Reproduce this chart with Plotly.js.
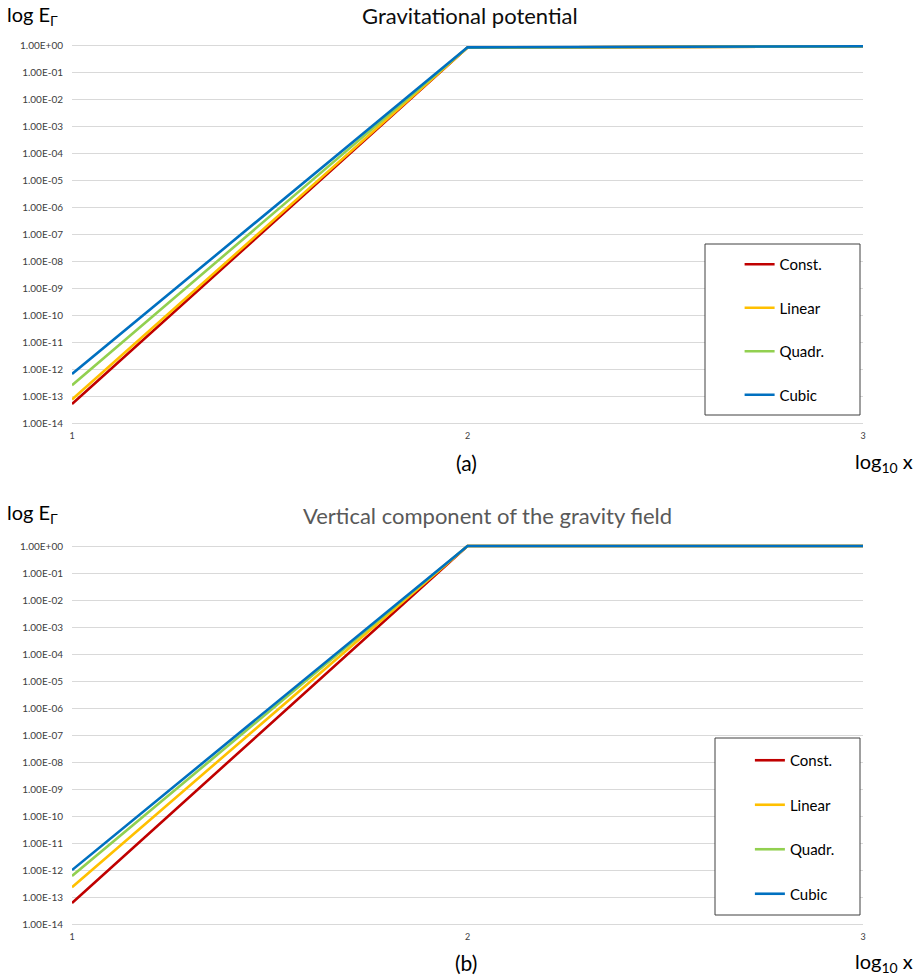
<!DOCTYPE html>
<html>
<head>
<meta charset="utf-8">
<script src="https://cdn.plot.ly/plotly-3.0.1.min.js"></script>
<style>html,body{margin:0;padding:0;background:#fff;}#chart{width:922px;height:979px;}</style>
</head>
<body>
<div id="chart"></div>
<script>
// ---- data ----
const xVals = [1, 2, 3];
const seriesNames = ["Const.", "Linear", "Quadr.", "Cubic"];
const seriesColors = ["#c00000", "#ffc000", "#92d050", "#0070c0"];

// (a) Gravitational potential
const potConst  = [5.5e-14, 0.80, 0.90];
const potLinear = [8.0e-14, 0.80, 0.90];
const potQuadr  = [2.7e-13, 0.80, 0.90];
const potCubic  = [7.0e-13, 0.82, 0.90];

// (b) Vertical component of the gravity field
const gravConst  = [6.5e-14, 1.0, 1.0];
const gravLinear = [2.5e-13, 1.0, 1.0];
const gravQuadr  = [6.5e-13, 1.0, 1.0];
const gravCubic  = [1.07e-12, 1.0, 1.0];

const yTickVals = [1e0,1e-1,1e-2,1e-3,1e-4,1e-5,1e-6,1e-7,1e-8,1e-9,1e-10,1e-11,1e-12,1e-13,1e-14];
const yTickText = ["1.00E+00","1.00E-01","1.00E-02","1.00E-03","1.00E-04","1.00E-05","1.00E-06","1.00E-07","1.00E-08","1.00E-09","1.00E-10","1.00E-11","1.00E-12","1.00E-13","1.00E-14"];
const xTickVals = [1, 2, 3];
const xTickText = ["1", "2", "3"];

const FONT = "Lato, 'Open Sans', sans-serif";
const potSeries = [potConst, potLinear, potQuadr, potCubic];
const gravSeries = [gravConst, gravLinear, gravQuadr, gravCubic];

const traces = [];
potSeries.forEach((ys, i) => traces.push({
  x: xVals, y: ys, type: "scatter", mode: "lines", name: seriesNames[i],
  line: {color: seriesColors[i], width: 2.6}, xaxis: "x", yaxis: "y",
  legend: "legend", legendgroup: "a" + i
}));
gravSeries.forEach((ys, i) => traces.push({
  x: xVals, y: ys, type: "scatter", mode: "lines", name: seriesNames[i],
  line: {color: seriesColors[i], width: 2.6}, xaxis: "x2", yaxis: "y2",
  legend: "legend2", legendgroup: "b" + i
}));

const yAxisBase = {
  type: "log", range: [-14.05, 0.1], tickvals: yTickVals, ticktext: yTickText,
  showgrid: true, gridcolor: "#d9d9d9", gridwidth: 1, showline: false, zeroline: false,
  ticks: "", ticklabelstandoff: 8, tickfont: {family: FONT, size: 10, color: "#404040"},
  fixedrange: true
};
const xAxisBase = {
  type: "linear", range: [1, 3], tickvals: xTickVals, ticktext: xTickText,
  showgrid: false, zeroline: false, showline: false, ticks: "",
  ticklabelstandoff: 4, tickfont: {family: FONT, size: 9, color: "#404040"}, fixedrange: true
};

const legendBase = {
  bgcolor: "rgba(0,0,0,0)", borderwidth: 0, traceorder: "grouped",
  tracegroupgap: 21, itemwidth: 30, font: {family: FONT, size: 15, color: "#000"},
  xanchor: "left", yanchor: "top", xref: "paper", yref: "paper"
};

const layout = {
  width: 922, height: 979,
  margin: {l: 72, r: 59, t: 0, b: 0},
  paper_bgcolor: "#fff", plot_bgcolor: "#fff",
  showlegend: true,
  xaxis: Object.assign({}, xAxisBase, {domain: [0, 1], anchor: "y"}),
  yaxis: Object.assign({}, yAxisBase, {domain: [0.56553, 0.95679], anchor: "x"}),
  xaxis2: Object.assign({}, xAxisBase, {domain: [0, 1], anchor: "y2"}),
  yaxis2: Object.assign({}, yAxisBase, {domain: [0.05378, 0.44505], anchor: "x2"}),
  legend: Object.assign({}, legendBase, {x: 0.844, y: 1 - 248 / 979}),
  legend2: Object.assign({}, legendBase, {x: 0.857, y: 1 - 744 / 979, tracegroupgap: 22}),
  shapes: [
    {type: "rect", xref: "paper", yref: "paper", layer: "above",
     x0: (705 - 72) / 791, x1: (860 - 72) / 791, y0: 1 - 415 / 979, y1: 1 - 244 / 979,
     line: {color: "#404040", width: 1}, fillcolor: "#ffffff"},
    {type: "rect", xref: "paper", yref: "paper", layer: "above",
     x0: (715 - 72) / 791, x1: (860 - 72) / 791, y0: 1 - 915 / 979, y1: 1 - 738 / 979,
     line: {color: "#404040", width: 1}, fillcolor: "#ffffff"}
  ],
  annotations: [
    {text: "Gravitational potential", xref: "paper", yref: "paper", x: (470 - 72) / 791, y: 1 - 16 / 979,
     xanchor: "center", yanchor: "middle", showarrow: false, font: {family: FONT, size: 22, color: "#0d0d0d"}},
    {text: "Vertical component of the gravity field", xref: "paper", yref: "paper", x: (487 - 72) / 791, y: 1 - 515 / 979,
     xanchor: "center", yanchor: "middle", showarrow: false, font: {family: FONT, size: 22, color: "#595959"}},
    {text: "log E<sub>Γ</sub>", xref: "paper", yref: "paper", x: (5 - 72) / 791, y: 1 - 16 / 979,
     xanchor: "left", yanchor: "middle", showarrow: false, font: {family: FONT, size: 20, color: "#000"}},
    {text: "log E<sub>Γ</sub>", xref: "paper", yref: "paper", x: (5 - 72) / 791, y: 1 - 513 / 979,
     xanchor: "left", yanchor: "middle", showarrow: false, font: {family: FONT, size: 20, color: "#000"}},
    {text: "(a)", xref: "paper", yref: "paper", x: (466 - 72) / 791, y: 1 - 462 / 979,
     xanchor: "center", yanchor: "middle", showarrow: false, font: {family: FONT, size: 21, color: "#000"}},
    {text: "(b)", xref: "paper", yref: "paper", x: (466 - 72) / 791, y: 1 - 962 / 979,
     xanchor: "center", yanchor: "middle", showarrow: false, font: {family: FONT, size: 21, color: "#000"}},
    {text: "log<sub>10</sub> x", xref: "paper", yref: "paper", x: (884 - 72) / 791, y: 1 - 462 / 979,
     xanchor: "center", yanchor: "middle", showarrow: false, font: {family: FONT, size: 20, color: "#000"}},
    {text: "log<sub>10</sub> x", xref: "paper", yref: "paper", x: (884 - 72) / 791, y: 1 - 962 / 979,
     xanchor: "center", yanchor: "middle", showarrow: false, font: {family: FONT, size: 20, color: "#000"}}
  ]
};

Plotly.newPlot("chart", traces, layout, {displayModeBar: false, staticPlot: true});
</script>
</body>
</html>
